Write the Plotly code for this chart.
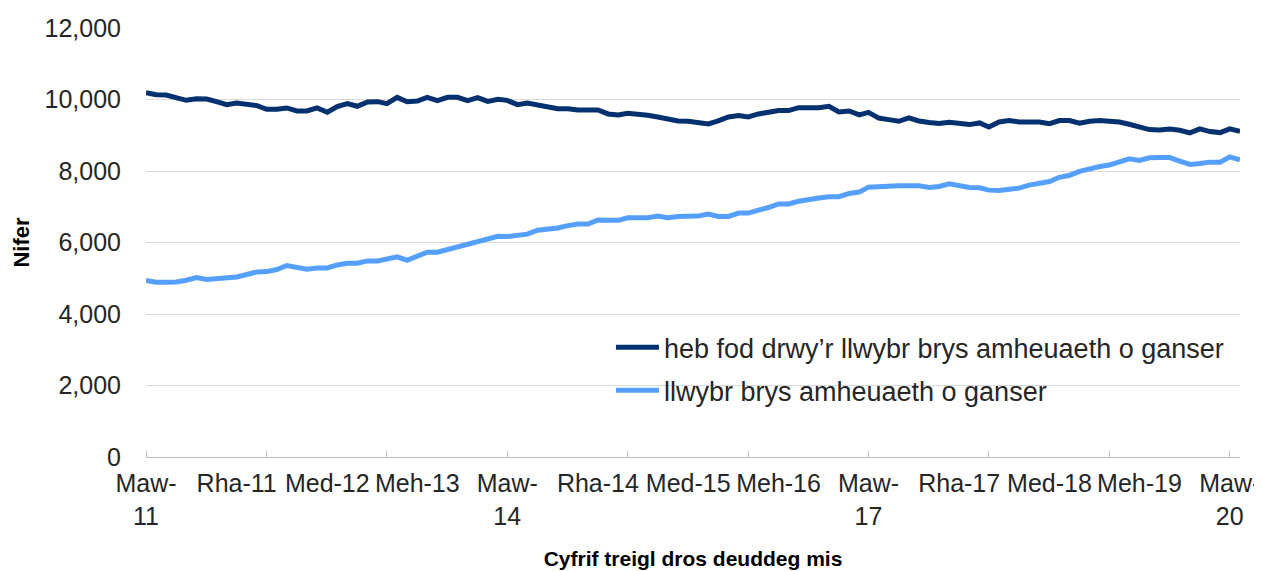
import pandas as pd
import plotly.graph_objects as go

# Monthly rolling 12-month counts, Mar 2011 (Maw-11) to Apr 2020
months = pd.date_range("2011-03-01", periods=110, freq="MS")

non_usc = [
    10190, 10134, 10125, 10060, 9977, 10022, 10013, 9939, 9855, 9902,
    9865, 9828, 9727, 9727, 9763, 9679, 9679, 9763, 9643, 9800,
    9884, 9810, 9930, 9939, 9884, 10060, 9939, 9958, 10060, 9967,
    10060, 10060, 9967, 10050, 9948, 10004, 9975,
    9855, 9902, 9855, 9791, 9744, 9744, 9707, 9707, 9707, 9596,
    9568, 9614, 9596, 9559, 9512, 9447, 9400, 9391, 9354, 9317,
    9400, 9512, 9549, 9512, 9596, 9651, 9689, 9689, 9772, 9772,
    9772, 9810, 9651, 9679, 9568, 9640, 9480,
    9437, 9391, 9484, 9400, 9354, 9326, 9363, 9335, 9298, 9345,
    9233, 9372, 9410, 9372, 9372, 9372, 9326, 9410, 9410, 9335,
    9391, 9410,
    9392, 9372, 9308, 9233, 9158, 9149, 9177, 9140, 9066, 9177,
    9102, 9074, 9177, 9112,
]

usc = [
    4936, 4888, 4888, 4897, 4944, 5020, 4964, 4992, 5028, 5037,
    5104, 5177, 5186, 5244, 5356, 5300, 5252, 5289, 5289, 5373,
    5420, 5420, 5485, 5485, 5524, 5597, 5504, 5616, 5728, 5728,
    5804, 5860, 5961, 6000, 6084, 6176, 6168,
    6214, 6233, 6344, 6371, 6407, 6471, 6518, 6518, 6628, 6620,
    6620, 6692, 6692, 6692, 6739, 6692, 6730, 6730, 6739, 6794,
    6730, 6730, 6822, 6822, 6896, 6979, 7079, 7079, 7153, 7216,
    7244, 7282, 7282, 7373, 7410, 7548, 7570,
    7586, 7586, 7586, 7586, 7539, 7567, 7641, 7594, 7539, 7530,
    7465, 7456, 7484, 7521, 7604, 7650, 7705, 7824, 7880, 7990,
    8063, 8127, 8166, 8257, 8340, 8293, 8368, 8376, 8376, 8276,
    8183, 8210, 8248, 8248, 8395, 8312,
]

tick_dates = ["2011-03-01", "2011-12-01", "2012-09-01", "2013-06-01", "2014-03-01",
              "2014-12-01", "2015-09-01", "2016-06-01", "2017-03-01", "2017-12-01",
              "2018-09-01", "2019-06-01", "2020-03-01"]
tick_labels = ["Maw-<br>11", "Rha-11", "Med-12", "Meh-13", "Maw-<br>14", "Rha-14",
               "Med-15", "Meh-16", "Maw-<br>17", "Rha-17", "Med-18", "Meh-19",
               "Maw-<br>20"]

name_non = "heb fod drwy\u2019r llwybr brys amheuaeth o ganser"
name_usc = "llwybr brys amheuaeth o ganser"

FONT = "Liberation Sans, Arial, sans-serif"
TXT = "#262626"

fig = go.Figure()
fig.add_trace(go.Scatter(x=months, y=non_usc, mode="lines", name=name_non,
                         legendgroup="a",
                         line=dict(color="#03306F", width=5)))
fig.add_trace(go.Scatter(x=months, y=usc, mode="lines", name=name_usc,
                         legendgroup="b",
                         line=dict(color="#55A0FF", width=5)))

fig.update_layout(
    width=1254, height=563,
    margin=dict(l=138, r=22, t=20, b=114),
    plot_bgcolor="white", paper_bgcolor="white",
    font=dict(family=FONT, size=25, color=TXT),
    showlegend=True,
    legend=dict(x=0.425, y=0.312, xanchor="left", yanchor="top",
                bgcolor="rgba(0,0,0,0)", tracegroupgap=5,
                traceorder="grouped", itemwidth=43,
                font=dict(family=FONT, size=27, color=TXT)),
    xaxis=dict(
        type="date", automargin=False,
        range=[months[0], months[-1]],
        tickmode="array", tickvals=tick_dates, ticktext=tick_labels,
        ticks="", showgrid=False, tickangle=0,
        ticklabelstandoff=4,
        showline=True, linecolor="#BFBFBF", linewidth=1,
        tickfont=dict(family=FONT, size=25, color=TXT),
        minor=dict(ticks="inside", ticklen=6, tickcolor="#BFBFBF",
                   dtick="M12", tick0="2011-03-01", showgrid=False),
        title=dict(text="<b>Cyfrif treigl dros deuddeg mis</b>",
                   font=dict(family=FONT, size=21, color="#000000"),
                   standoff=22),
        fixedrange=True,
    ),
    yaxis=dict(
        automargin=False,
        range=[0, 12000], dtick=2000, tickformat=",d",
        showgrid=True, gridcolor="#D9D9D9", gridwidth=1,
        zeroline=False, showline=False, ticks="",
        ticklabelstandoff=24,
        tickfont=dict(family=FONT, size=25, color=TXT),
        title=dict(text="<b>Nifer</b>",
                   font=dict(family=FONT, size=22, color="#000000"),
                   standoff=8),
    ),
)

fig.write_html("out.html")
